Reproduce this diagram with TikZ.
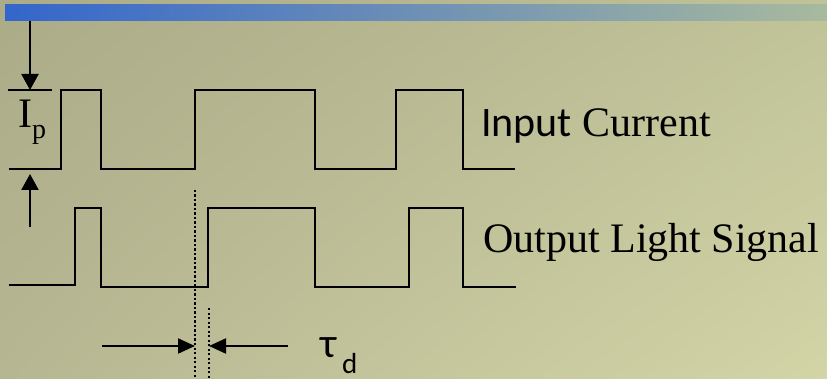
\documentclass[tikz,border=0pt]{standalone}
\usepackage{fontspec}
\setmainfont{Liberation Serif}
\newfontfamily\calfont{Carlito}
\usetikzlibrary{arrows.meta,shadings}
\definecolor{bgUL}{RGB}{171,171,136}
\definecolor{bgUR}{RGB}{192,194,152}
\definecolor{bgLL}{RGB}{182,183,146}
\definecolor{bgLR}{RGB}{211,213,167}
\definecolor{barL}{RGB}{51,102,204}
\definecolor{barR}{RGB}{168,186,158}
\tikzset{
  wave/.style={line width=2.2pt, line join=miter, black},
  dimline/.style={line width=2.2pt, black},
  tip/.style={-{Triangle[length=16pt,width=17pt]}},
  htip/.style={-{Triangle[length=17pt,width=15pt]}},
  dots/.style={line width=2.2pt, dash pattern=on 2.2pt off 2.3pt, black},
  label/.style={inner sep=0pt, anchor=base west, font=\fontsize{42}{46}\selectfont},
}
\begin{document}
\begin{tikzpicture}[x=1pt,y=-1pt]
\useasboundingbox (0,0) rectangle (827,379);
\shade[upper left=bgUL, upper right=bgUR, lower left=bgLL, lower right=bgLR] (0,0) rectangle (827,379);
\shade[left color=barL, right color=barR] (5,5) rectangle (827,21);

% input current waveform
\draw[wave] (9,169) -- (61,169) -- (61,90) -- (101,90) -- (101,169) -- (195,169) -- (195,90)
  -- (315,90) -- (315,169) -- (396,169) -- (396,90) -- (463,90) -- (463,169) -- (515,169);
% output light waveform
\draw[wave] (9,285) -- (75,285) -- (75,208) -- (101,208) -- (101,287) -- (208,287) -- (208,208)
  -- (315,208) -- (315,287) -- (409,287) -- (409,208) -- (463,208) -- (463,287) -- (516,287);

% Ip dimension
\coordinate (ipTopL) at (8,90);
\coordinate (ipTopR) at (52,90);
\draw[dimline] (ipTopL) -- (ipTopR);
\coordinate (downStart) at (30,21);
\coordinate (downTip) at (30,90);
\coordinate (upStart) at (30,227);
\coordinate (upTip) at (30,174);
\draw[dimline,tip] (downStart) -- (downTip);
\draw[dimline,tip] (upStart) -- (upTip);
\node[inner sep=0pt, anchor=base west, font=\fontsize{42}{44}\selectfont] (ip) at (18,128) {I};
\node[inner sep=0pt, anchor=base west, font=\fontsize{28}{30}\selectfont] (ipsub) at (32,139) {p};

% delay marks
\coordinate (d1top) at (195,190);
\coordinate (d1bot) at (195,379);
\coordinate (d2top) at (209,308);
\coordinate (d2bot) at (209,379);
\draw[dots] (d1top) -- (d1bot);
\draw[dots] (d2top) -- (d2bot);
\coordinate (la) at (102,346);
\coordinate (lt) at (195,346);
\coordinate (ra) at (288,346);
\coordinate (rt) at (209,346);
\draw[dimline,htip] (la) -- (lt);
\draw[dimline,htip] (ra) -- (rt);
\node[inner sep=0pt, anchor=base west, font=\calfont\fontsize{42}{44}\selectfont] (tau) at (320,357) {τ};
\node[inner sep=0pt, anchor=base west, font=\calfont\fontsize{29}{32}\selectfont] (tausub) at (342,373) {d};

% labels
\node[label] (inlab) at (481,137) {{\calfont Input} Current};
\node[label] (outlab) at (483,253) {Output Light Signal};
\end{tikzpicture}
\end{document}
